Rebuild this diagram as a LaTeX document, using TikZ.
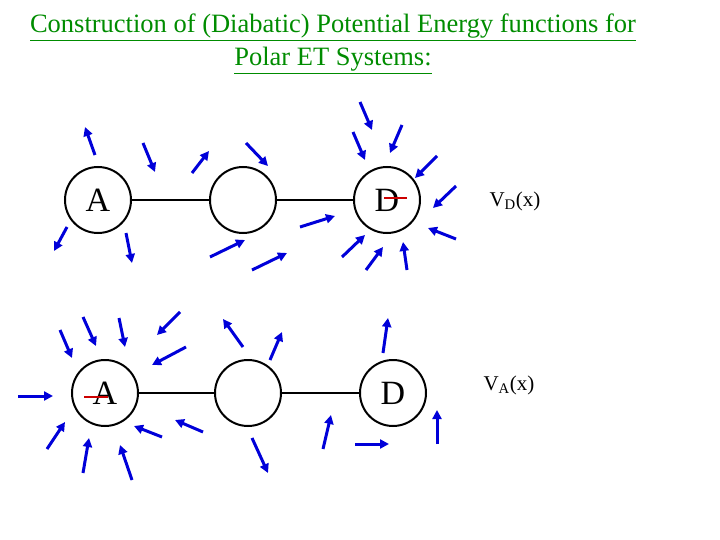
\documentclass[tikz,border=0pt]{standalone}
\usepackage{fontspec}
\setmainfont{Liberation Serif}
\usetikzlibrary{arrows.meta}
\begin{document}
\begin{tikzpicture}[x=1pt,y=-1pt,
  atom/.style={circle,draw,line width=2pt,minimum size=66pt,inner sep=0pt,font=\fontsize{34}{34}\selectfont},
  bond/.style={line width=1.5pt},
  dip/.style={blue!85!black,line width=3pt,-{Triangle[length=9pt,width=9pt]}},
  charge/.style={red!80!black,line width=2.5pt},
  lbl/.style={font=\fontsize{21}{21}\selectfont,anchor=west}]
\useasboundingbox (0,0) rectangle (720,540);
\node[text=green!55!black,align=center,font=\fontsize{26.5}{33}\selectfont] (title) at (333,44)
  {\underline{Construction of (Diabatic) Potential Energy functions for}\\\underline{Polar ET Systems:}};
% top row
\node[atom] (a1) at (98,200) {A};
\node[atom] (m1) at (243,200) {};
\node[atom] (d1) at (387,200) {D};
\draw[bond] (a1) -- (m1) (m1) -- (d1);
\draw[charge] (384,198) -- (407,198);
\node[lbl] (v1) at (486,201) {V\textsubscript{D}(x)};
\foreach \a/\b/\c/\d in {95/155/85/127, 143/143/155/172, 192/173/209/151, 246/143/268/166,
  360/102/372/130, 353/132/365/160, 402/125/390/153, 437/156/415/178, 456/186/433/208,
  456/239/428/228, 407/270/403/242, 366/270/383/247, 342/257/365/235, 300/227/335/216,
  210/257/245/240, 252/270/287/253, 67/227/54/251, 126/233/132/263}
  \draw[dip] (\a,\b) -- (\c,\d);
% bottom row
\node[atom] (a2) at (105,393) {A};
\node[atom] (m2) at (248,393) {};
\node[atom] (d2) at (393,393) {D};
\draw[bond] (a2) -- (m2) (m2) -- (d2);
\draw[charge] (84,397) -- (108,397);
\node[lbl] (v2) at (480,385) {V\textsubscript{A}(x)};
\foreach \a/\b/\c/\d in {18/396/53/396, 60/330/72/358, 83/317/96/346, 119/318/125/347,
  180/312/157/335, 186/347/152/365, 243/347/223/319, 270/360/282/332, 383/353/388/318,
  47/449/65/422, 83/473/89/438, 132/480/120/445, 162/437/134/426, 203/432/175/420,
  252/438/268/473, 323/449/331/415, 355/444/389/444, 437/444/437/410}
  \draw[dip] (\a,\b) -- (\c,\d);
\end{tikzpicture}
\end{document}
